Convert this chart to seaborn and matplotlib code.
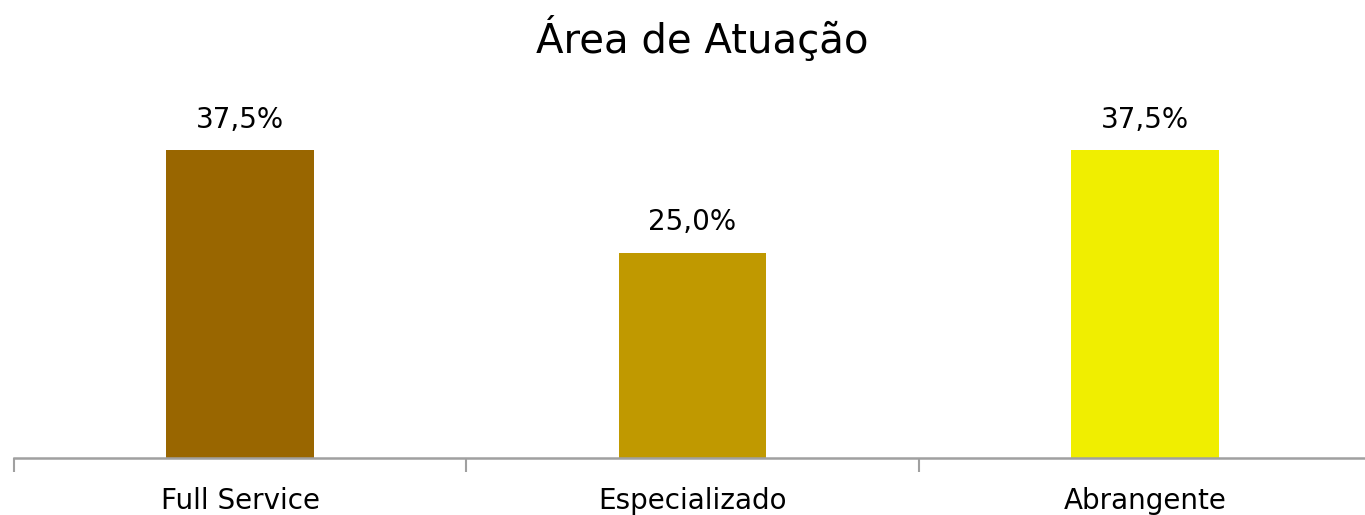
import matplotlib
matplotlib.use("Agg")
import matplotlib.pyplot as plt
import seaborn as sns
import pandas as pd

categorias = ["Full Service", "Especializado", "Abrangente"]
valores = [37.5, 25.0, 37.5]
rotulos = ["37,5%", "25,0%", "37,5%"]
cores = ["#996600", "#C09900", "#F0EE00"]

sns.set_theme(style="white")
plt.rcParams['font.family'] = ['DejaVu Sans']

df = pd.DataFrame({"cat": categorias, "val": valores})

fig = plt.figure(figsize=(13.65, 5.15), dpi=100)
ax = fig.add_axes([14/1365, 57/515, 1357/1365, 369/515])

sns.barplot(data=df, x="cat", y="val", hue="cat", palette=cores,
            width=0.327, legend=False, ax=ax, saturation=1, linewidth=0)

ax.set_ylim(0, 45)
ax.set_xlim(-0.5, 2.5)
ax.set_xlabel("")
ax.set_ylabel("")
ax.set_yticks([])

for s in ["top", "right", "left"]:
    ax.spines[s].set_visible(False)
ax.spines["bottom"].set_color("#a0a0a0")
ax.spines["bottom"].set_linewidth(1.8)

# ticks between categories
ax.set_xticks([-0.5, 0.5, 1.5, 2.5], minor=True)
ax.tick_params(axis="x", which="minor", length=10, width=1.5, color="#a0a0a0", direction="out", bottom=True)
ax.tick_params(axis="x", which="major", length=0, labelsize=20, pad=21, labelcolor="black")

for i, v in enumerate(valores):
    ax.annotate(rotulos[i], (i, v), xytext=(0, 12), textcoords="offset points",
                ha="center", va="bottom", fontsize=20, color="black")

fig.text(702/1365, 1 - 53/515, "Área de Atuação", ha="center", va="baseline",
         fontsize=29, color="black")

fig.savefig("out.png", dpi=100)
